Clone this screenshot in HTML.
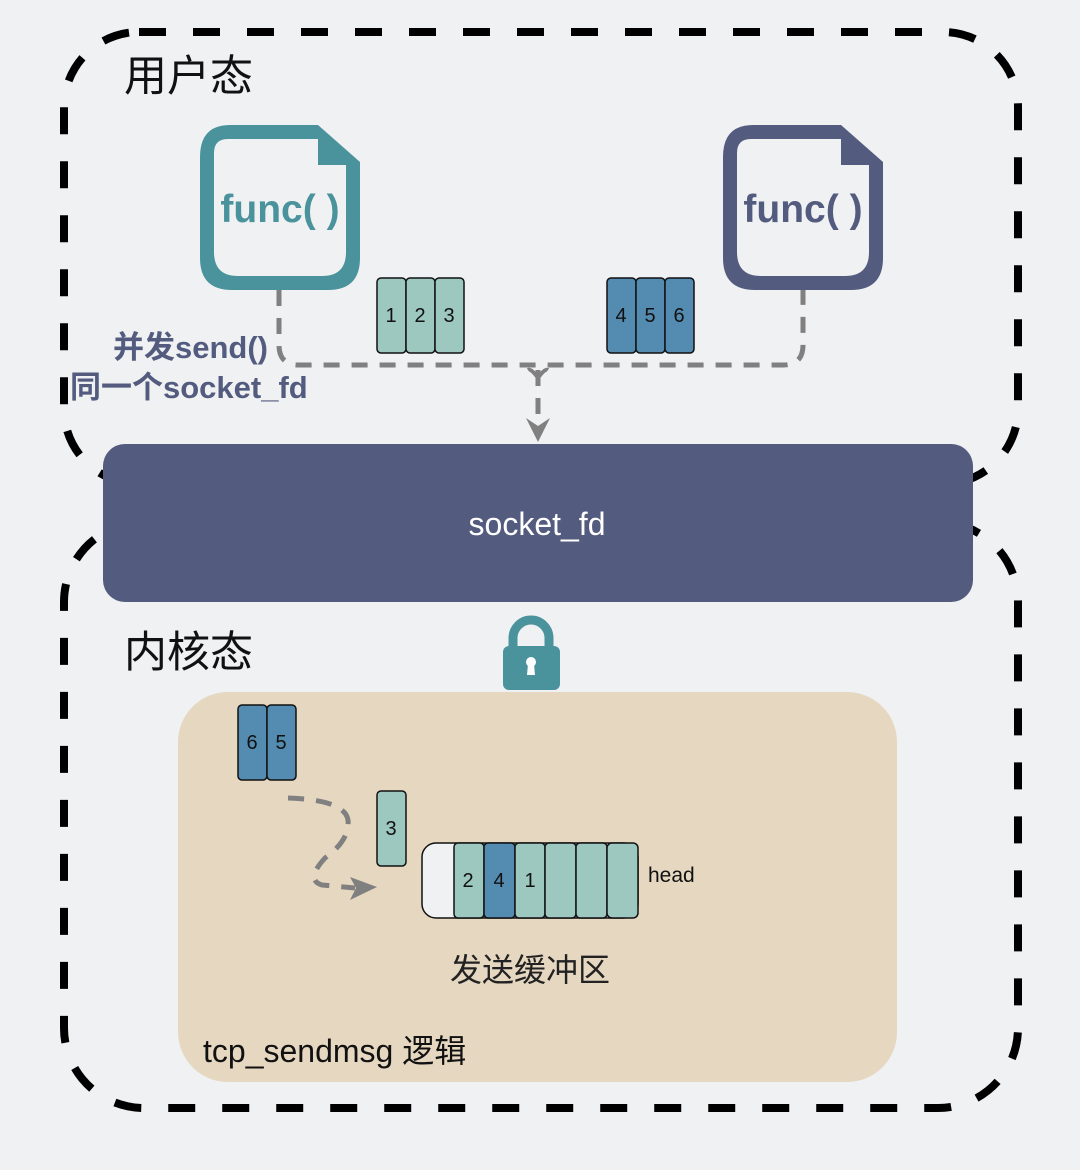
<!DOCTYPE html>
<html><head><meta charset="utf-8"><style>
html,body{margin:0;padding:0;background:#f0f1f3;}
svg{display:block}
</style></head><body>
<svg width="1080" height="1170" viewBox="0 0 1080 1170" xmlns="http://www.w3.org/2000/svg" font-family="Liberation Sans, Noto Sans CJK SC, sans-serif">
<rect width="1080" height="1170" fill="#f0f1f3"/>
<rect x="64" y="32" width="954" height="452" rx="75" fill="none" stroke="#000" stroke-width="8" stroke-dasharray="27 27"/>
<rect x="64" y="522" width="954" height="586" rx="80" fill="none" stroke="#000" stroke-width="8" stroke-dasharray="27 27"/>
<text x="124" y="91" font-size="43" fill="#111">用户态</text>
<g>
<path d="M230,125 H318 L360,162 V258 Q360,290 328,290 H232 Q200,290 200,258 V157 Q200,125 230,125 Z" fill="#4b939c"/>
<path d="M228,139 H318 V165 H346 V252 Q346,276 322,276 H238 Q214,276 214,252 V153 Q214,139 228,139 Z" fill="#f0f1f3"/>
<text x="280" y="222" font-size="39" font-weight="bold" fill="#4b939c" text-anchor="middle">func( )</text>
</g>
<g>
<path d="M753,125 H841 L883,162 V258 Q883,290 851,290 H755 Q723,290 723,258 V157 Q723,125 753,125 Z" fill="#535c7f"/>
<path d="M751,139 H841 V165 H869 V252 Q869,276 845,276 H761 Q737,276 737,252 V153 Q737,139 751,139 Z" fill="#f0f1f3"/>
<text x="803" y="222" font-size="39" font-weight="bold" fill="#535c7f" text-anchor="middle">func( )</text>
</g>
<g fill="none" stroke="#808080" stroke-width="5" stroke-dasharray="16 12">
<path d="M279,290 V345 Q279,365 299,365 H783 Q803,365 803,345 V290"/>
<path d="M538,370 V425"/>
</g>
<path d="M538,378 Q531,368 528,370 M538,378 Q545,368 548,370" stroke="#808080" stroke-width="4" fill="none"/>
<path d="M526,418 L538,442 L550,418 L538,426 Z" fill="#808080"/>
<g stroke="#111" stroke-width="1.5">
<rect x="377" y="278" width="29" height="75" rx="4" fill="#9cc8c0"/>
<rect x="406" y="278" width="29" height="75" rx="4" fill="#9cc8c0"/>
<rect x="435" y="278" width="29" height="75" rx="4" fill="#9cc8c0"/>
<rect x="607" y="278" width="29" height="75" rx="4" fill="#548bb0"/>
<rect x="636" y="278" width="29" height="75" rx="4" fill="#548bb0"/>
<rect x="665" y="278" width="29" height="75" rx="4" fill="#548bb0"/>
</g>
<g font-size="20" text-anchor="middle" fill="#111">
<text x="391" y="322">1</text><text x="420" y="322">2</text><text x="449" y="322">3</text>
<text x="621" y="322">4</text><text x="650" y="322">5</text><text x="679" y="322">6</text>
</g>
<text x="113" y="358" font-size="31" font-weight="bold" fill="#535c7f">并发send()</text>
<text x="70" y="398" font-size="31" font-weight="bold" fill="#535c7f">同一个socket_fd</text>
<rect x="103" y="444" width="870" height="158" rx="22" fill="#535c7f"/>
<text x="537" y="535" font-size="32" fill="#fff" text-anchor="middle">socket_fd</text>
<text x="124" y="667" font-size="43" fill="#111">内核态</text>
<rect x="178" y="692" width="719" height="390" rx="50" fill="#e6d7c1"/>
<path d="M513,646 V638 A18,18 0 0 1 549,638 V646" fill="none" stroke="#4b939c" stroke-width="9"/>
<rect x="503" y="646" width="57" height="44" rx="6" fill="#4b939c"/>
<circle cx="531" cy="662" r="5" fill="#fff"/><path d="M528,664 H534 L535,675 H527 Z" fill="#fff"/>
<g stroke="#111" stroke-width="1.5">
<rect x="238" y="705" width="29" height="75" rx="4" fill="#548bb0"/>
<rect x="267" y="705" width="29" height="75" rx="4" fill="#548bb0"/>
<rect x="377" y="791" width="29" height="75" rx="4" fill="#9cc8c0"/>
<rect x="422" y="843" width="216" height="75" rx="14" fill="#f0f1f3"/>
<rect x="454" y="843" width="30" height="75" rx="4" fill="#9cc8c0"/>
<rect x="484" y="843" width="31" height="75" rx="4" fill="#548bb0"/>
<rect x="515" y="843" width="30" height="75" rx="4" fill="#9cc8c0"/>
<rect x="545" y="843" width="31" height="75" rx="4" fill="#9cc8c0"/>
<rect x="576" y="843" width="31" height="75" rx="4" fill="#9cc8c0"/>
<rect x="607" y="843" width="31" height="75" rx="5" fill="#9cc8c0"/>
</g>
<g font-size="20" text-anchor="middle" fill="#111">
<text x="252" y="749">6</text><text x="281" y="749">5</text><text x="391" y="835">3</text>
<text x="468" y="887">2</text><text x="499" y="887">4</text><text x="530" y="887">1</text>
</g>
<text x="648" y="882" font-size="21" fill="#111">head</text>
<path d="M288,798 Q345,800 348,820 Q350,840 325,858 Q305,880 322,885 L355,888" fill="none" stroke="#808080" stroke-width="5" stroke-dasharray="16 12"/>
<path d="M350,877 L377,887 L350,900 L356,888 Z" fill="#808080"/>
<text x="530" y="981" font-size="32" fill="#222" text-anchor="middle">发送缓冲区</text>
<text x="203" y="1062" font-size="32" fill="#111">tcp_sendmsg 逻辑</text>
</svg>
</body></html>
